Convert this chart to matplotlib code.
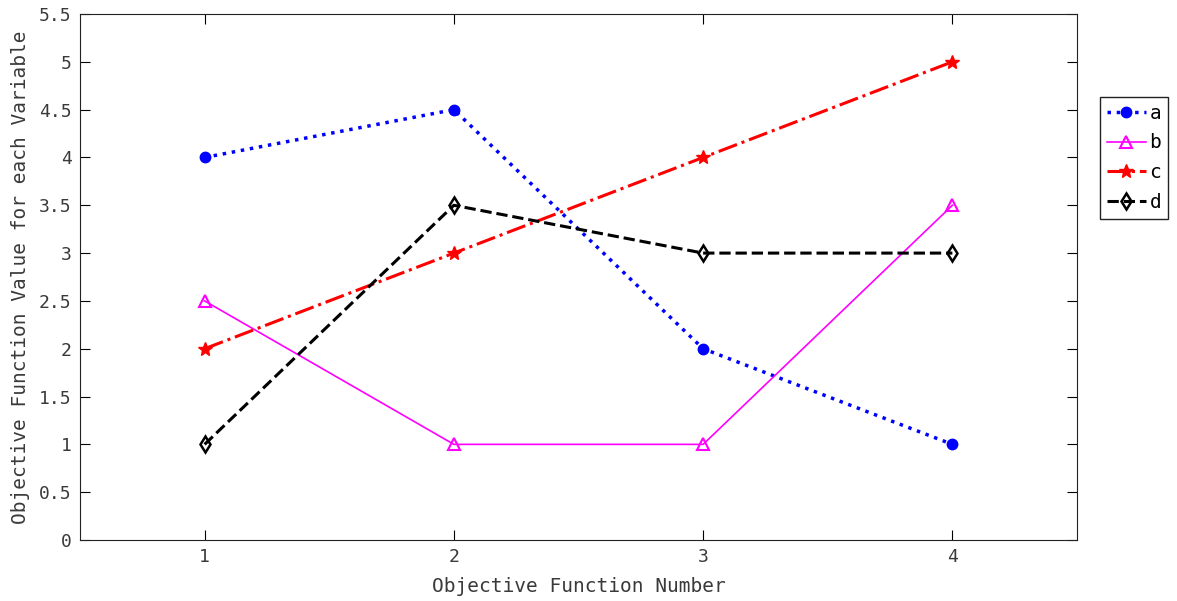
import matplotlib.pyplot as plt

x = [1, 2, 3, 4]
a = [4, 4.5, 2, 1]
b = [2.5, 1, 1, 3.5]
c = [2, 3, 4, 5]
d = [1, 3.5, 3, 3]
yticks = [0, 0.5, 1, 1.5, 2, 2.5, 3, 3.5, 4, 4.5, 5, 5.5]

plt.rcParams['font.family'] = 'DejaVu Sans Mono'
fig = plt.figure(figsize=(11.77, 6.01), dpi=100)
ax = fig.add_axes([80/1177, 1-540/601, 997/1177, 526/601])

ax.plot(x, a, color='blue', linestyle=':', linewidth=2.5, marker='o', markersize=7.5, label='a')
ax.plot(x, b, color='magenta', linestyle='-', linewidth=1.2, marker='^', markersize=9,
        markerfacecolor='none', markeredgewidth=1.5, label='b')
ax.plot(x, c, color='red', linestyle='-.', linewidth=2.2, marker='*', markersize=10, label='c')
ax.plot(x, d, color='black', linestyle='--', linewidth=2.2, marker='d', markersize=8.5,
        markerfacecolor='none', markeredgewidth=1.8, label='d')

ax.set_xlim(0.5, 4.5)
ax.set_ylim(0, 5.5)
ax.set_xticks(x)
ax.set_yticks(yticks)
ax.set_yticklabels([f"{v:g}" for v in yticks])
ax.tick_params(direction='in', top=True, right=True, length=7, labelsize=13,
               labelcolor='#3a3a3a', pad=6)
ax.set_xlabel('Objective Function Number', fontsize=14, color='#3a3a3a')
ax.set_ylabel('Objective Function Value for each Variable', fontsize=14, color='#3a3a3a')
ax.yaxis.set_label_coords(-0.050, 0.5)
ax.xaxis.set_label_coords(0.5, -0.070)
for s in ax.spines.values():
    s.set_color('#222222')

fig.legend(loc='upper left', bbox_to_anchor=(1100/1177, 1-97/601), fontsize=14,
           fancybox=False, edgecolor='#222222', framealpha=1, handlelength=2.0,
           borderpad=0.35, labelspacing=0.55, handletextpad=0.2, borderaxespad=0)

fig.savefig('out.png')
